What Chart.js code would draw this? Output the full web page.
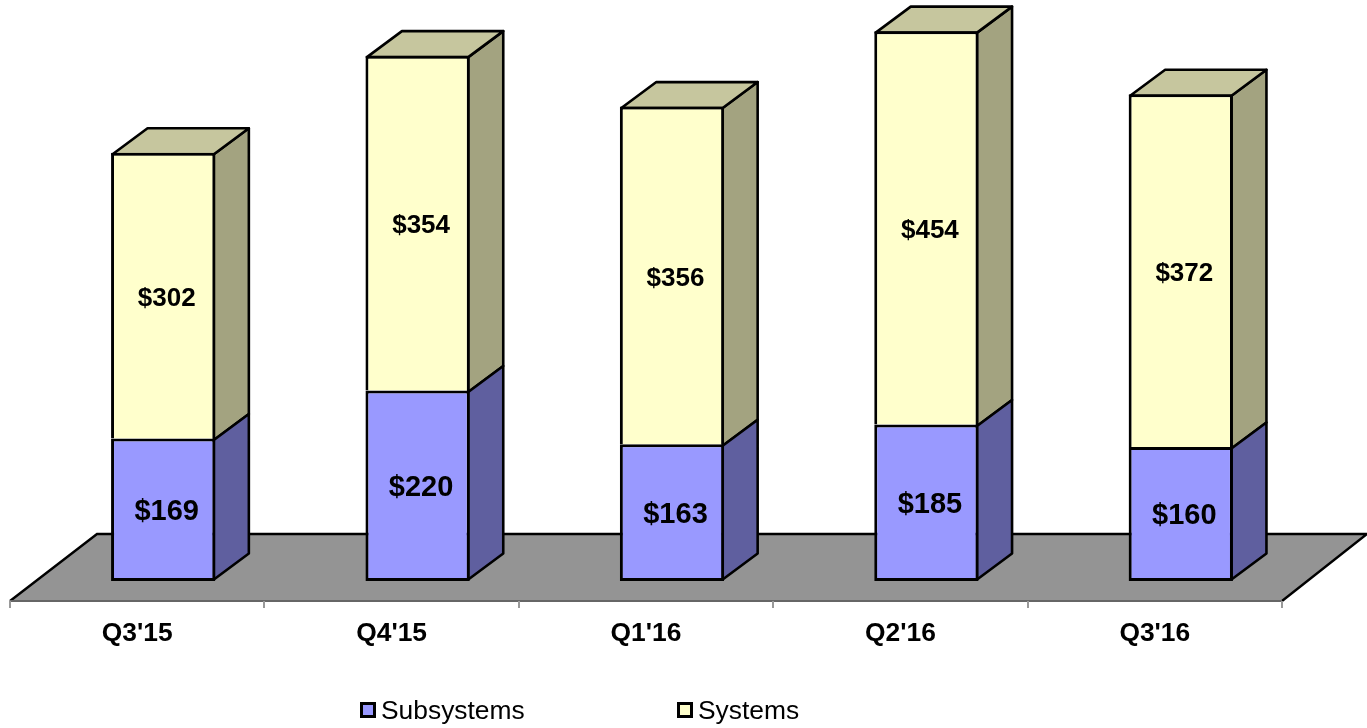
<!DOCTYPE html>
<html><head><meta charset="utf-8">
<style>html,body{margin:0;padding:0;background:#fff}#wrap{position:relative;width:1367px;height:728px}</style>
<script src="https://cdn.jsdelivr.net/npm/chart.js@4/dist/chart.umd.min.js"></script>
</head><body><div id="wrap"><canvas id="c" width="1367" height="728"></canvas></div>
<script>
const categories = ["Q3'15","Q4'15","Q1'16","Q2'16","Q3'16"];
// Printed data labels
const subsystemsLabels = ["$169","$220","$163","$185","$160"];
const systemsLabels = ["$302","$354","$356","$454","$372"];
// Bar heights (the drawn bars are not strictly proportional to their labels)
const subsystemsHeights = [151,202,145,166,142];
const systemsHeights = [303,355,358,417,374];

const FONT = '"Liberation Sans", Arial, sans-serif';
const DX = 35, DY = 26;            // 3D depth
const FX = 26, FY = 20;            // front edge of floor relative to bar plane
const FLOOR_BACK = 534;

function poly(ctx, pts, fill, stroke, lw){
  ctx.beginPath();
  pts.forEach((p,i)=> i?ctx.lineTo(p[0],p[1]):ctx.moveTo(p[0],p[1]));
  ctx.closePath();
  ctx.fillStyle = fill; ctx.fill();
  if (stroke){ ctx.strokeStyle = stroke; ctx.lineWidth = lw; ctx.lineJoin='round'; ctx.stroke(); }
}

const threeD = {
  id:'threeD',
  beforeDatasetsDraw(chart){
    const {ctx, chartArea:a} = chart;
    const y0 = a.bottom + FY, L = a.left - FX, R = a.right - FX;
    ctx.save();
    poly(ctx, [[L,y0],[R,y0],[R+85,FLOOR_BACK],[L+87,FLOOR_BACK]], '#949494');
    ctx.strokeStyle='#000'; ctx.lineWidth=2.4;
    ctx.beginPath(); ctx.moveTo(L,y0); ctx.lineTo(L+87,FLOOR_BACK); ctx.lineTo(R+85,FLOOR_BACK); ctx.lineTo(R,y0); ctx.stroke();
    ctx.strokeStyle='#666'; ctx.lineWidth=2;
    ctx.beginPath(); ctx.moveTo(L,y0); ctx.lineTo(R,y0); ctx.stroke();
    const band = (a.right-a.left)/categories.length;
    ctx.strokeStyle='#999'; ctx.lineWidth=2;
    for(let i=0;i<=categories.length;i++){
      const x=Math.round(L+band*i);
      ctx.beginPath(); ctx.moveTo(x,y0); ctx.lineTo(x,y0+7); ctx.stroke();
    }
    const sides=['#5F5F9F','#A3A380'];
    // draw the upper series first so the lower series' top edge forms the single shared line
    [1,0].forEach(di=>{
      chart.getDatasetMeta(di).data.forEach(b=>{
        const r=b.x+b.width/2-1.5, l=b.x-b.width/2+1.5, t=b.y+1.5, bt=b.base+(di?1.5:-1.5);
        poly(ctx, [[r,t],[r+DX,t-DY],[r+DX,bt-DY],[r,bt]], sides[di], '#000', 2.6);
        if(di===1) poly(ctx, [[l,t],[l+DX,t-DY],[r+DX,t-DY],[r,t]], '#C6C69E', '#000', 2.6);
      });
    });
    ctx.restore();
  },
  afterDatasetsDraw(chart){
    const {ctx} = chart;
    const labels=[subsystemsLabels,systemsLabels], sizes=[29,26], nudge=[2,3];
    ctx.save();
    ctx.fillStyle='#000'; ctx.textAlign='center'; ctx.textBaseline='middle';
    chart.data.datasets.forEach((ds,di)=>{
      ctx.font='bold '+sizes[di]+'px '+FONT;
      chart.getDatasetMeta(di).data.forEach((b,i)=>{
        ctx.fillText(labels[di][i], b.x+3.5, (b.y+b.base)/2+nudge[di]);
      });
    });
    // legend
    const pos=[[360,381],[677,698]];
    ctx.textAlign='left'; ctx.font='26.4px '+FONT;
    chart.data.datasets.forEach((ds,di)=>{
      const [bx,tx]=pos[di];
      ctx.fillStyle=ds.backgroundColor; ctx.strokeStyle='#000'; ctx.lineWidth=3;
      ctx.fillRect(bx+1.5,703.5,13,13); ctx.strokeRect(bx+1.5,703.5,13,13);
      ctx.fillStyle='#000';
      ctx.fillText(ds.label,tx,712);
    });
    ctx.restore();
  }
};

new Chart(document.getElementById('c'),{
  type:'bar',
  data:{labels:categories,datasets:[
    {label:'Subsystems',data:subsystemsHeights,backgroundColor:'#9999FF',borderColor:'#000',borderWidth:3,borderSkipped:false,barPercentage:0.41,categoryPercentage:1},
    {label:'Systems',data:systemsHeights,backgroundColor:'#FFFFCC',borderColor:'#000',borderWidth:3,barPercentage:0.41,categoryPercentage:1}
  ]},
  options:{
    responsive:false,animation:false,
    layout:{padding:{left:36,right:59,top:0,bottom:0}},
    plugins:{legend:{display:false},tooltip:{enabled:false},title:{display:false}},
    scales:{
      x:{stacked:true,offset:true,grid:{display:false},border:{display:false},
        afterFit(s){s.height=147;},
        ticks:{color:'#000',font:{family:FONT,size:26.4,weight:'bold'},labelOffset:-26,padding:29,maxRotation:0,autoSkip:false}},
      y:{stacked:true,min:0,max:616,display:false}
    }
  },
  plugins:[threeD]
});
</script></body></html>
